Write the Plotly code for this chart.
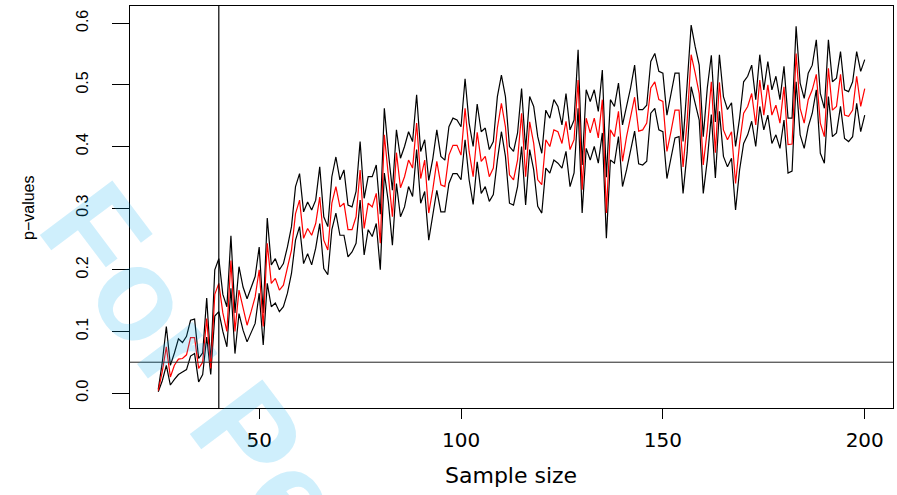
import plotly.graph_objects as go

# ---------------- data ----------------
sample_size = list(range(25, 201))

upper = [
    0.006, 0.05, 0.108, 0.045, 0.065, 0.088, 0.082, 0.092, 0.118, 0.12,
    0.056, 0.065, 0.154, 0.05, 0.2, 0.218, 0.16, 0.14, 0.255, 0.13,
    0.205, 0.172, 0.153, 0.172, 0.189, 0.237, 0.13, 0.284, 0.208, 0.218,
    0.2, 0.21, 0.237, 0.27, 0.335, 0.356, 0.294, 0.31, 0.297, 0.313,
    0.367, 0.286, 0.27, 0.351, 0.383, 0.346, 0.362, 0.305, 0.302, 0.327,
    0.408, 0.316, 0.351, 0.351, 0.37, 0.29, 0.462, 0.39, 0.329, 0.427,
    0.381, 0.4, 0.424, 0.408, 0.484, 0.392, 0.411, 0.345, 0.38, 0.427,
    0.384, 0.378, 0.432, 0.446, 0.443, 0.432, 0.51, 0.438, 0.4, 0.469,
    0.424, 0.43, 0.395, 0.408, 0.481, 0.516, 0.481, 0.4, 0.392, 0.422,
    0.494, 0.395, 0.481, 0.465, 0.416, 0.389, 0.459, 0.446, 0.476, 0.465,
    0.435, 0.486, 0.427, 0.443, 0.557, 0.37, 0.492, 0.473, 0.492, 0.457,
    0.524, 0.35, 0.476, 0.465, 0.503, 0.435, 0.465, 0.495, 0.532, 0.46,
    0.46, 0.467, 0.538, 0.551, 0.522, 0.519, 0.451, 0.484, 0.519, 0.519,
    0.408, 0.5, 0.597, 0.562, 0.532, 0.416, 0.495, 0.548, 0.44, 0.549,
    0.481, 0.46, 0.471, 0.4, 0.446, 0.505, 0.514, 0.532, 0.476, 0.549,
    0.492, 0.538, 0.492, 0.514, 0.476, 0.53, 0.446, 0.446, 0.595, 0.503,
    0.478, 0.519, 0.532, 0.573, 0.486, 0.462, 0.573, 0.505, 0.511, 0.554,
    0.492, 0.489, 0.505, 0.554, 0.522, 0.541,
]

mean_p = [
    0.004, 0.035, 0.075, 0.026, 0.045, 0.055, 0.056, 0.062, 0.09, 0.09,
    0.04, 0.05, 0.121, 0.04, 0.16, 0.178, 0.13, 0.1, 0.215, 0.1,
    0.167, 0.14, 0.11, 0.132, 0.156, 0.2, 0.108, 0.243, 0.178, 0.186,
    0.167, 0.175, 0.202, 0.232, 0.291, 0.313, 0.251, 0.267, 0.256, 0.275,
    0.318, 0.248, 0.232, 0.308, 0.335, 0.302, 0.308, 0.265, 0.265, 0.286,
    0.362, 0.267, 0.308, 0.302, 0.324, 0.243, 0.419, 0.35, 0.286, 0.39,
    0.333, 0.351, 0.378, 0.365, 0.438, 0.348, 0.378, 0.292, 0.33, 0.376,
    0.338, 0.335, 0.386, 0.402, 0.402, 0.386, 0.462, 0.392, 0.351, 0.423,
    0.376, 0.384, 0.351, 0.365, 0.43, 0.47, 0.432, 0.354, 0.346, 0.378,
    0.454, 0.351, 0.44, 0.405, 0.346, 0.338, 0.411, 0.4, 0.427, 0.424,
    0.405, 0.441, 0.395, 0.411, 0.508, 0.33, 0.446, 0.422, 0.446, 0.414,
    0.476, 0.292, 0.427, 0.416, 0.457, 0.376, 0.416, 0.448, 0.48, 0.425,
    0.427, 0.438, 0.495, 0.505, 0.476, 0.473, 0.392, 0.424, 0.459, 0.459,
    0.367, 0.44, 0.549, 0.519, 0.486, 0.37, 0.427, 0.505, 0.39, 0.504,
    0.427, 0.411, 0.424, 0.34, 0.405, 0.454, 0.465, 0.486, 0.435, 0.508,
    0.451, 0.5, 0.451, 0.467, 0.438, 0.497, 0.403, 0.404, 0.551, 0.462,
    0.438, 0.476, 0.492, 0.517, 0.438, 0.416, 0.527, 0.459, 0.465, 0.517,
    0.451, 0.449, 0.459, 0.514, 0.465, 0.494,
]

lower = [
    0.002, 0.02, 0.045, 0.013, 0.022, 0.03, 0.034, 0.038, 0.06, 0.064,
    0.018, 0.03, 0.091, 0.03, 0.125, 0.132, 0.1, 0.075, 0.17, 0.064,
    0.129, 0.102, 0.083, 0.097, 0.113, 0.162, 0.078, 0.178, 0.14, 0.146,
    0.132, 0.14, 0.162, 0.194, 0.248, 0.27, 0.21, 0.226, 0.208, 0.235,
    0.275, 0.202, 0.192, 0.265, 0.292, 0.256, 0.256, 0.221, 0.229, 0.243,
    0.313, 0.224, 0.265, 0.254, 0.275, 0.2, 0.357, 0.31, 0.24, 0.34,
    0.286, 0.302, 0.335, 0.319, 0.395, 0.308, 0.327, 0.248, 0.286, 0.329,
    0.294, 0.294, 0.34, 0.356, 0.356, 0.346, 0.411, 0.346, 0.306, 0.375,
    0.324, 0.335, 0.311, 0.322, 0.378, 0.424, 0.384, 0.308, 0.305, 0.335,
    0.4, 0.305, 0.395, 0.362, 0.303, 0.292, 0.365, 0.357, 0.378, 0.373,
    0.365, 0.392, 0.335, 0.357, 0.462, 0.292, 0.397, 0.378, 0.4, 0.373,
    0.422, 0.251, 0.378, 0.373, 0.416, 0.335, 0.362, 0.395, 0.425, 0.372,
    0.37, 0.376, 0.454, 0.462, 0.427, 0.424, 0.348, 0.381, 0.414, 0.416,
    0.324, 0.39, 0.497, 0.47, 0.443, 0.324, 0.378, 0.452, 0.349, 0.457,
    0.384, 0.367, 0.381, 0.297, 0.362, 0.405, 0.419, 0.441, 0.4, 0.465,
    0.427, 0.451, 0.405, 0.419, 0.397, 0.443, 0.357, 0.36, 0.505, 0.419,
    0.397, 0.432, 0.454, 0.492, 0.389, 0.373, 0.481, 0.416, 0.422, 0.465,
    0.413, 0.408, 0.416, 0.47, 0.424, 0.451,
]

x_tick_values = [50, 100, 150, 200]
y_tick_values = [0.0, 0.1, 0.2, 0.3, 0.4, 0.5, 0.6]
y_tick_labels = ["0.0", "0.1", "0.2", "0.3", "0.4", "0.5", "0.6"]
alpha_level = 0.05
cutoff_n = 40
x_title = "Sample size"
y_title = "p\u2212values"
watermark = "For Peer Review"

# ---------------- figure ----------------
fig = go.Figure()
fig.add_trace(go.Scatter(x=sample_size, y=upper, mode="lines",
                         line=dict(color="black", width=1.2), hoverinfo="skip"))
fig.add_trace(go.Scatter(x=sample_size, y=lower, mode="lines",
                         line=dict(color="black", width=1.2), hoverinfo="skip"))
fig.add_trace(go.Scatter(x=sample_size, y=mean_p, mode="lines",
                         line=dict(color="#ff0000", width=1.2), hoverinfo="skip"))

fig.add_shape(type="line", xref="paper", x0=0, x1=1, yref="y",
              y0=alpha_level, y1=alpha_level, line=dict(color="#222222", width=1))
fig.add_shape(type="line", xref="x", x0=cutoff_n, x1=cutoff_n, yref="paper",
              y0=0, y1=1, line=dict(color="black", width=1.2))

fig.update_layout(
    width=897, height=495,
    margin=dict(l=130, r=4, t=6, b=87),
    paper_bgcolor="white", plot_bgcolor="white",
    showlegend=False,
    xaxis=dict(range=[18, 207], tickvals=x_tick_values, ticks="outside",
               ticklen=10, tickwidth=1, tickcolor="black",
               showline=True, mirror=True, linecolor="black", linewidth=1,
               showgrid=False, zeroline=False, automargin=False,
               tickfont=dict(family="DejaVu Sans", size=20, color="black"),
               ticklabelstandoff=4),
    yaxis=dict(range=[-0.0243, 0.628], tickvals=y_tick_values,
               ticktext=y_tick_labels, tickangle=-90, ticks="outside",
               ticklen=17, tickwidth=1, tickcolor="black",
               showline=True, mirror=True, linecolor="black", linewidth=1,
               showgrid=False, zeroline=False, automargin=False,
               tickfont=dict(family="Liberation Sans", size=16, color="black"),
               ticklabelstandoff=18),
)

fig.add_annotation(text=x_title, xref="paper", yref="paper",
                   x=(511 - 130) / 763, y=(408 - 475) / 402,
                   xanchor="center", yanchor="middle", showarrow=False,
                   font=dict(family="DejaVu Sans", size=22, color="black"))
fig.add_annotation(text=y_title, xref="paper", yref="paper",
                   x=(28 - 130) / 763, y=(408 - 208) / 402, textangle=-90,
                   xanchor="center", yanchor="middle", showarrow=False,
                   font=dict(family="Liberation Sans", size=16, color="black"))
fig.add_annotation(text=watermark, xref="paper", yref="paper",
                   x=(380 - 130) / 763, y=(408 - 610) / 402, textangle=53,
                   xanchor="center", yanchor="middle", showarrow=False,
                   font=dict(family="Liberation Sans", size=132, weight="bold",
                             color="rgba(0,170,240,0.19)"))

fig.write_html("out.html", config={"displayModeBar": False},
               post_script="document.body.style.margin='0';")
